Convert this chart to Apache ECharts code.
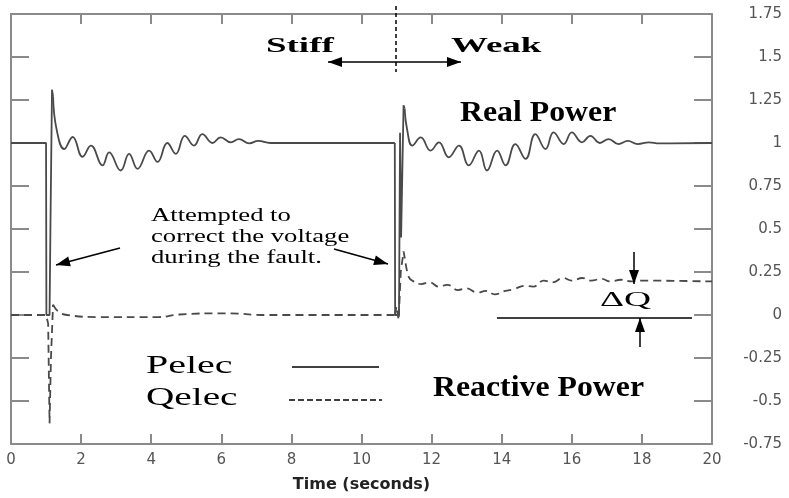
<!DOCTYPE html>
<html>
<head>
<meta charset="utf-8">
<script src="https://cdn.jsdelivr.net/npm/echarts@6/dist/echarts.min.js"></script>
<style>
  html, body { margin: 0; padding: 0; background: #fff; }
  #chart { width: 789px; height: 498px; }
</style>
</head>
<body>
<div id="chart"></div>
<script>
// axis ticks
var xTicks = [0, 2, 4, 6, 8, 10, 12, 14, 16, 18, 20];
var yTicks = [-0.75, -0.5, -0.25, 0, 0.25, 0.5, 0.75, 1, 1.25, 1.5, 1.75];

// Pelec (real power) - fault jumps drawn straight, swings drawn smooth
var pelecFault1 = [[0, 1], [1.0, 1], [1.01, 0], [1.1, 0], [1.13, 0.6], [1.17, 1.31], [1.2, 1.27]];
var pelecSwing1 = [[1.2, 1.27], [1.3, 1.08], [1.52, 0.965], [1.76, 1.035], [2.04, 0.92], [2.28, 0.985],
  [2.61, 0.87], [2.8, 0.946], [3.13, 0.84], [3.37, 0.937], [3.61, 0.85], [3.94, 0.956], [4.18, 0.89],
  [4.46, 1.0], [4.7, 0.937], [4.96, 1.042], [5.22, 0.985], [5.46, 1.052], [5.75, 1.0], [5.98, 1.033],
  [6.27, 1.004], [6.5, 1.023], [6.8, 0.998], [7.05, 1.012], [7.4, 1.0], [9, 1.0], [10.95, 1.0]];
var pelecFault2 = [[10.95, 1], [10.96, 0], [11.07, 0], [11.1, 1.06], [11.13, 0.45], [11.2, 1.22], [11.23, 1.2]];
var pelecSwing2 = [[11.23, 1.2], [11.3, 1.08], [11.45, 0.985], [11.69, 1.033], [11.97, 0.956], [12.21, 1.004],
  [12.49, 0.917], [12.78, 0.985], [13.06, 0.87], [13.35, 0.956], [13.58, 0.84], [13.87, 0.956],
  [14.11, 0.87], [14.39, 0.994], [14.68, 0.908], [14.96, 1.052], [15.25, 0.965], [15.48, 1.062],
  [15.77, 0.994], [16.0, 1.062], [16.29, 1.004], [16.53, 1.042], [16.8, 1.0], [17.05, 1.023],
  [17.33, 0.994], [17.6, 1.012], [17.88, 0.994], [18.2, 1.004], [18.5, 0.998], [20, 1.0]];

// Qelec (reactive power)
var qelecFault1 = [[0, 0], [1.0, 0], [1.06, -0.05], [1.1, -0.63], [1.14, -0.25], [1.2, 0.06]];
var qelecSwing1 = [[1.2, 0.06], [1.35, 0.02], [1.6, 0.0], [2.5, -0.012], [4.2, -0.012], [4.8, 0.003],
  [6.1, 0.01], [7.3, 0.0], [10.95, 0]];
var qelecFault2 = [[10.95, 0], [11.0, 0.05], [11.06, -0.03], [11.12, 0.25], [11.2, 0.37], [11.26, 0.3]];
var qelecSwing2 = [[11.26, 0.3], [11.35, 0.22], [11.45, 0.2], [11.7, 0.18], [11.95, 0.19], [12.2, 0.165],
  [12.45, 0.175], [12.75, 0.145], [13.0, 0.155], [13.3, 0.13], [13.55, 0.14], [13.8, 0.12],
  [14.1, 0.14], [14.35, 0.15], [14.65, 0.17], [14.9, 0.165], [15.2, 0.2], [15.45, 0.19],
  [15.75, 0.215], [16.0, 0.2], [16.3, 0.215], [16.55, 0.2], [16.85, 0.21], [17.1, 0.195],
  [17.4, 0.205], [17.7, 0.195], [18, 0.2], [20, 0.195]];

var chart = echarts.init(document.getElementById("chart"));

var axisGray = "#8a8a8a";
var serif = "Liberation Serif";

function xAx(pos, showLabel) {
  return {
    type: "value",
    position: pos,
    min: xTicks[0],
    max: xTicks[xTicks.length - 1],
    interval: xTicks[1] - xTicks[0],
    axisLine: { show: true, onZero: false, lineStyle: { color: axisGray, width: 2 } },
    axisTick: { show: true, inside: true, length: 10, lineStyle: { color: axisGray, width: 2 } },
    axisLabel: { show: showLabel, color: "#555", fontSize: 15, fontFamily: "DejaVu Sans", margin: 9 },
    splitLine: { show: false }
  };
}
function yAx(pos, showLabel) {
  return {
    type: "value",
    position: pos,
    min: yTicks[0],
    max: yTicks[yTicks.length - 1],
    interval: yTicks[1] - yTicks[0],
    axisLine: { show: true, onZero: false, lineStyle: { color: axisGray, width: 2 } },
    axisTick: { show: true, inside: true, length: 18, lineStyle: { color: axisGray, width: 2 } },
    axisLabel: { show: showLabel, color: "#555", fontSize: 15, fontFamily: "DejaVu Sans", align: "right", margin: 70 },
    splitLine: { show: false }
  };
}

var xMain = xAx("bottom", true);
xMain.name = "Time (seconds)";
xMain.nameLocation = "middle";
xMain.nameGap = 33;
xMain.nameTextStyle = { fontFamily: "DejaVu Sans", fontWeight: "bold", fontSize: 16, color: "#222" };

function seg(name, data, smooth, dashed) {
  return {
    name: name,
    type: "line",
    data: data,
    smooth: smooth ? 0.45 : false,
    showSymbol: false,
    symbol: "none",
    silent: true,
    lineStyle: { color: "#4a4a4a", width: 1.8, type: dashed ? [8, 5] : "solid" }
  };
}

// annotation helpers
function txt(str, x, y, size, sx, weight) {
  return {
    type: "text", x: x, y: y, scaleX: sx, z: 100,
    style: {
      text: str, x: 0, y: 0, fill: "#000",
      fontFamily: serif, fontSize: size, fontWeight: weight || "normal",
      align: "left", verticalAlign: "middle"
    }
  };
}
function line(x1, y1, x2, y2, dash) {
  return {
    type: "line", z: 100,
    shape: { x1: x1, y1: y1, x2: x2, y2: y2 },
    style: { stroke: "#000", lineWidth: 1.5, lineDash: dash || null }
  };
}
function head(x1, y1, x2, y2) {
  var a = Math.atan2(y2 - y1, x2 - x1), L = 14, W = 5;
  var bx = x2 - L * Math.cos(a), by = y2 - L * Math.sin(a);
  return {
    type: "polygon", z: 100,
    shape: { points: [[x2, y2], [bx + W * Math.sin(a), by - W * Math.cos(a)], [bx - W * Math.sin(a), by + W * Math.cos(a)]] },
    style: { fill: "#000" }
  };
}
function arrow(x1, y1, x2, y2) {
  return [line(x1, y1, x2, y2), head(x1, y1, x2, y2)];
}

var graphics = [].concat(
  [line(396, 6, 396, 72, [4, 3])],
  arrow(396, 62, 328, 62),
  arrow(396, 62, 461, 62),
  [txt("Stiff", 266, 46, 22, 1.68, "bold"), txt("Weak", 451, 46, 22, 1.68, "bold")],
  [txt("Real Power", 460, 113, 30, 1.06, "bold"), txt("Reactive Power", 433, 388, 30, 1.06, "bold")],
  [txt("Attempted to", 151, 216, 18, 1.48), txt("correct the voltage", 151, 237, 18, 1.48), txt("during the fault.", 151, 258, 18, 1.48)],
  arrow(120, 248, 56, 265),
  arrow(334, 249, 388, 264),
  [txt("Pelec", 146, 366, 25, 1.6), txt("Qelec", 146, 398, 25, 1.57)],
  [line(292, 367, 379, 367), line(289, 400, 382, 400, [6, 3])],
  arrow(634, 252, 634, 284),
  [line(497, 318, 692, 318)],
  arrow(640, 347, 640, 318),
  [txt("\u0394Q", 600, 300, 22, 1.7)]
);

var option = {
  backgroundColor: "#fff",
  animation: false,
  grid: { left: 11, top: 14, width: 701, height: 434, containLabel: false },
  xAxis: [xMain, xAx("top", false)],
  yAxis: [yAx("right", true), yAx("left", false)],
  series: [
    seg("Pelec", pelecFault1, false, false),
    seg("Pelec", pelecSwing1, true, false),
    seg("Pelec", pelecFault2, false, false),
    seg("Pelec", pelecSwing2, true, false),
    seg("Qelec", qelecFault1, false, true),
    seg("Qelec", qelecSwing1, true, true),
    seg("Qelec", qelecFault2, false, true),
    seg("Qelec", qelecSwing2, true, true)
  ],
  graphic: graphics
};

chart.setOption(option);
window.addEventListener("resize", function () { chart.resize(); });
</script>
</body>
</html>
